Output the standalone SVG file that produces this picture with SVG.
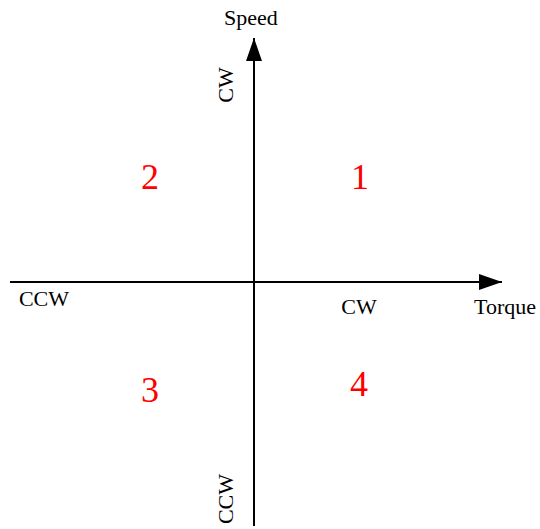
<svg xmlns="http://www.w3.org/2000/svg" width="540" height="529" viewBox="0 0 540 529">
<style>
.lbl{font-family:"Liberation Serif","Times New Roman",serif;font-size:22px;fill:#000}
.num{font-family:"Liberation Serif","Times New Roman",serif;font-size:36px;fill:#ff0000;text-anchor:middle}
.ax{stroke:#000;stroke-width:2;fill:none}
</style>
<defs>
<marker id="arr" markerUnits="userSpaceOnUse" markerWidth="24" markerHeight="16" refX="23" refY="8" orient="auto">
<path d="M0,0 L23,8 L0,16 Z" fill="#000"/>
</marker>
</defs>
<g id="connectors">
<line class="ax" x1="254" y1="526" x2="254" y2="38" marker-end="url(#arr)"/>
<line class="ax" x1="10" y1="282" x2="502" y2="282" marker-end="url(#arr)"/>
</g>
<g id="speed-label"><text class="lbl" x="251" y="25" text-anchor="middle">Speed</text></g>
<g id="torque-label"><text class="lbl" x="505" y="314" text-anchor="middle">Torque</text></g>
<g id="cw-speed"><text class="lbl" transform="translate(233,85) rotate(-90)" text-anchor="middle">CW</text></g>
<g id="ccw-speed"><text class="lbl" transform="translate(233,499) rotate(-90)" text-anchor="middle">CCW</text></g>
<g id="ccw-torque"><text class="lbl" x="44" y="306" text-anchor="middle">CCW</text></g>
<g id="cw-torque"><text class="lbl" x="359" y="314" text-anchor="middle">CW</text></g>
<g id="q1"><text class="num" x="360" y="189">1</text></g>
<g id="q2"><text class="num" x="150" y="189">2</text></g>
<g id="q3"><text class="num" x="150" y="402">3</text></g>
<g id="q4"><text class="num" x="359" y="396">4</text></g>
</svg>
